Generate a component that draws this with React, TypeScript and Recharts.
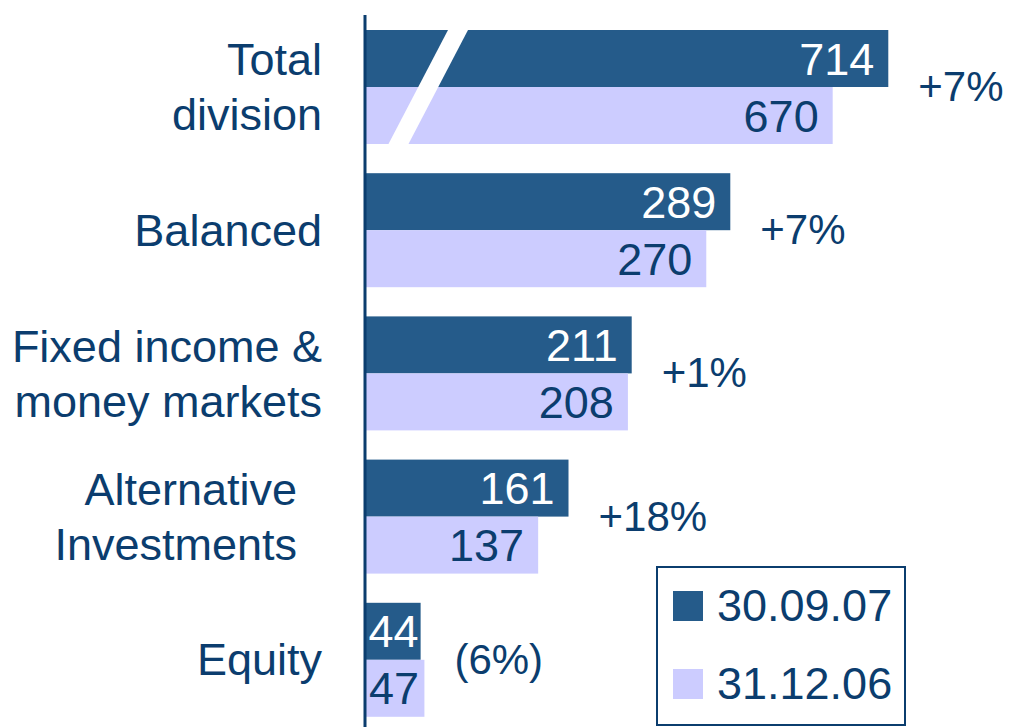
import React from 'react';
import { BarChart, Bar, XAxis, YAxis, LabelList, Legend } from 'recharts';

const NAVY = '#0B3D6E';
const DARK = '#255B8A';
const LIGHT = '#CCCCFF';
const FONT = '"Liberation Sans", Arial, Helvetica, sans-serif';

// --- data ---
const categories = ['Total division', 'Balanced', 'Fixed income & money markets', 'Alternative Investments', 'Equity'];
const categoryLines = [
  ['Total', 'division'],
  ['Balanced'],
  ['Fixed income &', 'money markets'],
  ['Alternative\u00a0\u00a0', 'Investments\u00a0\u00a0'],
  ['Equity'],
];
const sep07 = [714, 289, 211, 161, 44];
const dec06 = [670, 270, 208, 137, 47];
const changes = ['+7%', '+7%', '+1%', '+18%', '(6%)'];
// Total division is drawn on a broken axis: this much is cut out of its bars
const breakCut = [300, 0, 0, 0, 0];

const data = categories.map((name, i) => ({
  name,
  sep: sep07[i] - breakCut[i],
  dec: dec06[i] - breakCut[i],
  sepText: String(sep07[i]),
  decText: String(dec06[i]),
  change: changes[i],
}));

// slash marking the axis break (drawn over the cut bars)
const SLOPE = 59 / 113;
const BAR = 57;
const makeShape = (slashTop: number) => (props: any) => {
  const { x, y, width, height, fill, index } = props;
  const bx = x + slashTop;
  const dx = SLOPE * height;
  return (
    <g>
      <rect x={x} y={y} width={width} height={height} fill={fill} />
      {breakCut[index] > 0 && (
        <polygon
          fill="#ffffff"
          points={`${bx},${y} ${bx + 20},${y} ${bx + 20 - dx},${y + height} ${bx - dx},${y + height}`}
        />
      )}
    </g>
  );
};

const CategoryTick = (props: any) => {
  const { x, y, index } = props;
  const lines = categoryLines[index] || [props.payload?.value];
  const step = 55;
  const start = y - ((lines.length - 1) * step) / 2;
  return (
    <g>
      {lines.map((line: string, i: number) => (
        <text key={i} x={x} y={start + i * step} dy={16} textAnchor="end" fontSize={45} fill={NAVY} fontFamily={FONT}>
          {line}
        </text>
      ))}
    </g>
  );
};

const valueLabel = (color: string) => (props: any) => {
  const { x, y, width, height } = props.viewBox ?? props;
  const pad = Math.min(14, Math.max(2, width - 54));
  return (
    <text x={x + width - pad} y={y + height / 2} dy={16} textAnchor="end" fontSize={45} fill={color} fontFamily={FONT}>
      {props.value}
    </text>
  );
};

const ChangeLabel = (props: any) => {
  const { x, y, width, height } = props.viewBox ?? props;
  const row = data[props.index];
  if (!row) return null;
  const end = x + (width * Math.max(row.sep, row.dec)) / row.sep;
  return (
    <text x={end + 30} y={y + height} dy={14} fontSize={42} fill={NAVY} fontFamily={FONT}>
      {props.value}
    </text>
  );
};

const LegendBox = ({ payload }: any) => (
  <div
    style={{
      width: 250,
      height: 160,
      border: `2px solid ${NAVY}`,
      boxSizing: 'border-box',
      position: 'relative',
      background: '#fff',
      fontFamily: FONT,
      fontSize: 45,
      color: NAVY,
    }}
  >
    {(payload || []).map((p: any, i: number) => (
      <div
        key={p.value}
        style={{ position: 'absolute', left: 15, top: 13 + i * 78, height: 50, lineHeight: '50px', display: 'flex', alignItems: 'center', whiteSpace: 'nowrap' }}
      >
        <span style={{ display: 'inline-block', width: 30, height: 30, background: p.color, marginRight: 14 }} />
        <span>{p.value}</span>
      </div>
    ))}
  </div>
);

export default function App() {
  return (
    <div style={{ position: 'absolute', left: 0, top: 0, width: 1010, height: 727, overflow: 'hidden', background: '#fff' }}>
      <BarChart
        width={1010}
        height={740}
        data={data}
        layout="vertical"
        margin={{ top: 15, right: 13, bottom: 9, left: 0 }}
        barGap={0}
      >
        <XAxis type="number" domain={[0, 500]} hide />
        <YAxis
          type="category"
          dataKey="name"
          width={365}
          interval={0}
          tickSize={0}
          tickMargin={43}
          tickLine={false}
          axisLine={{ stroke: NAVY, strokeWidth: 3 }}
          tick={<CategoryTick />}
        />
        <Legend
          layout="horizontal"
          verticalAlign="middle"
          align="center"
          content={<LegendBox />}
          wrapperStyle={{ left: 656, top: 566, width: 250, height: 160 }}
        />
        <Bar dataKey="sep" name="30.09.07" fill={DARK} barSize={BAR} shape={makeShape(83)} isAnimationActive={false}>
          <LabelList dataKey="sepText" content={valueLabel('#ffffff')} />
          <LabelList dataKey="change" content={ChangeLabel} />
        </Bar>
        <Bar dataKey="dec" name="31.12.06" fill={LIGHT} barSize={BAR} shape={makeShape(83 - SLOPE * BAR)} isAnimationActive={false}>
          <LabelList dataKey="decText" content={valueLabel(NAVY)} />
        </Bar>
      </BarChart>
    </div>
  );
}
